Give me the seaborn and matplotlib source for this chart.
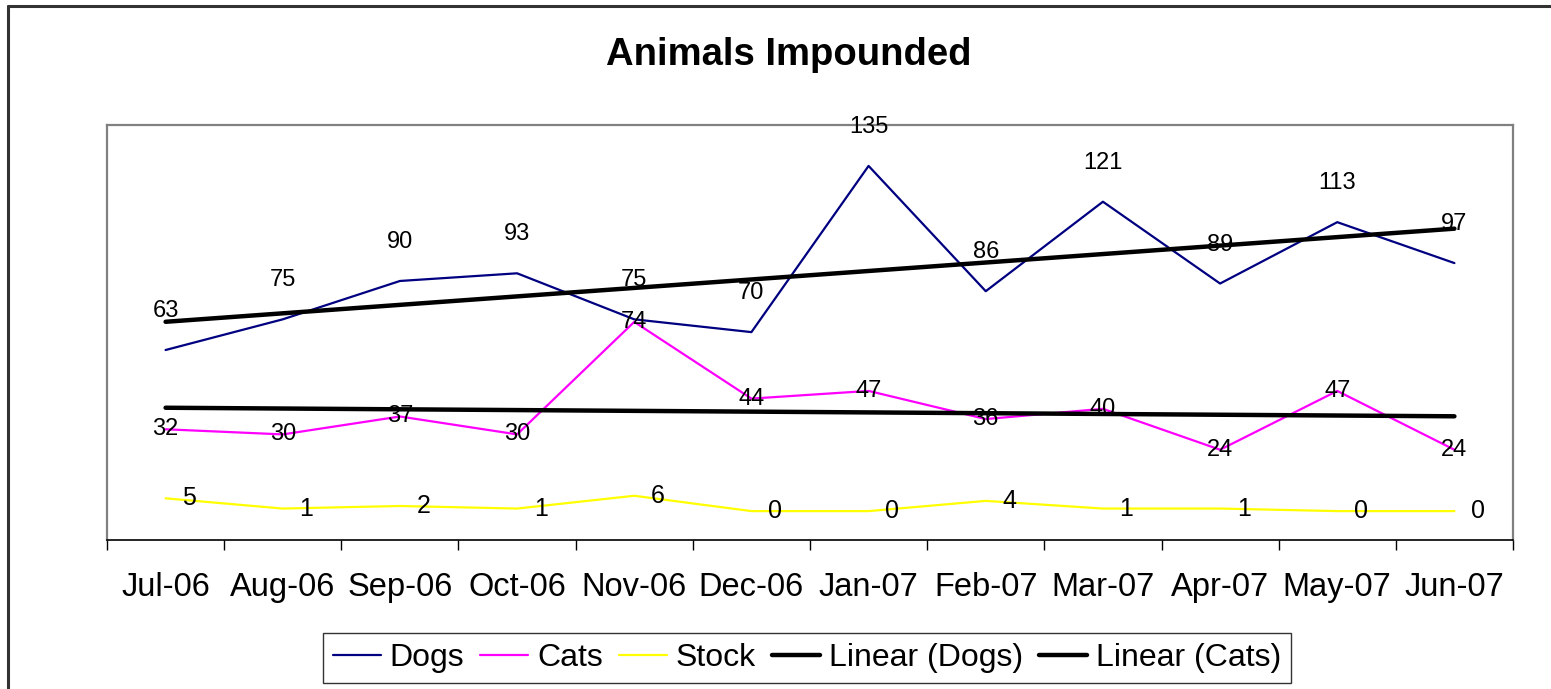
import seaborn as sns
import matplotlib.pyplot as plt
import numpy as np
import pandas as pd

# data
months = ['Jul-06', 'Aug-06', 'Sep-06', 'Oct-06', 'Nov-06', 'Dec-06',
          'Jan-07', 'Feb-07', 'Mar-07', 'Apr-07', 'May-07', 'Jun-07']
dogs = [63, 75, 90, 93, 75, 70, 135, 86, 121, 89, 113, 97]
cats = [32, 30, 37, 30, 74, 44, 47, 36, 40, 24, 47, 24]
stock = [5, 1, 2, 1, 6, 0, 0, 4, 1, 1, 0, 0]

sns.set_theme(style='white')
plt.rcParams['font.family'] = ['Liberation Sans', 'DejaVu Sans']
plt.rcParams['text.color'] = 'black'
plt.rcParams['xtick.color'] = 'black'
plt.rcParams['xtick.labelcolor'] = 'black'

x = np.arange(len(months))
df = pd.DataFrame({'x': x, 'Dogs': dogs, 'Cats': cats, 'Stock': stock})

fig = plt.figure(figsize=(15.51, 6.89), dpi=100)
ax = fig.add_axes([107 / 1551, 1 - 540 / 689, (1513 - 107) / 1551, (540 - 125) / 689])

# series lines
sns.lineplot(data=df, x='x', y='Dogs', color='#000080', lw=1.6, label='Dogs', ax=ax)
sns.lineplot(data=df, x='x', y='Cats', color='#FF00FF', lw=1.6, label='Cats', ax=ax)
sns.lineplot(data=df, x='x', y='Stock', color='#FFFF00', lw=1.6, label='Stock', ax=ax)

# linear trend lines
for col, lab in [('Dogs', 'Linear (Dogs)'), ('Cats', 'Linear (Cats)')]:
    m, b = np.polyfit(df['x'], df[col], 1)
    sns.lineplot(x=x, y=m * x + b, color='black', lw=3.2, label=lab, ax=ax)

# data labels
for i in range(len(months)):
    ax.annotate(str(dogs[i]), (x[i], dogs[i]), xytext=(0, 28), textcoords='offset points',
                ha='center', va='center', fontsize=17)
    ax.annotate(str(cats[i]), (x[i], cats[i]), xytext=(0, 0), textcoords='offset points',
                ha='center', va='center', fontsize=17)
    ax.annotate(str(stock[i]), (x[i], stock[i]), xytext=(17, 0), textcoords='offset points',
                ha='center', va='center', fontsize=18)

ax.set_xlim(-0.5, 11.5)
ax.set_ylim(-11.3, 151)
ax.set_xlabel('')
ax.set_ylabel('')
ax.set_yticks([])
ax.set_xticks(x)
ax.set_xticklabels(months, fontsize=23.5)
ax.set_xticks(np.arange(-0.5, 12, 1), minor=True)
ax.tick_params(axis='x', which='major', length=0, pad=23)
ax.tick_params(axis='x', which='minor', length=7.5, width=1, color='black', bottom=True)

for s in ['top', 'left', 'right']:
    ax.spines[s].set_color('#808080')
    ax.spines[s].set_linewidth(1.6)
ax.spines['bottom'].set_color('black')
ax.spines['bottom'].set_linewidth(1.2)

handles, labels = ax.get_legend_handles_labels()
ax.get_legend().remove()
leg = fig.legend(handles, labels, loc='center', bbox_to_anchor=(807 / 1551, 1 - 658 / 689),
                 ncol=5, fontsize=23, frameon=True, fancybox=False, edgecolor='black',
                 handlelength=1.5, handletextpad=0.28, columnspacing=0.5,
                 borderpad=0.3, borderaxespad=0)
leg.get_frame().set_linewidth(1.0)

fig.text(789 / 1551, 1 - 55 / 689, 'Animals Impounded', ha='center', va='center',
         fontsize=27.5, fontweight='bold')

# outer chart border
fig.add_artist(plt.Line2D([8 / 1551, 8 / 1551], [0, 1 - 6 / 689], color='#333333', lw=2.2))
fig.add_artist(plt.Line2D([8 / 1551, 1], [1 - 6 / 689, 1 - 6 / 689], color='#333333', lw=2.2))

fig.savefig('out.png', dpi=100)
